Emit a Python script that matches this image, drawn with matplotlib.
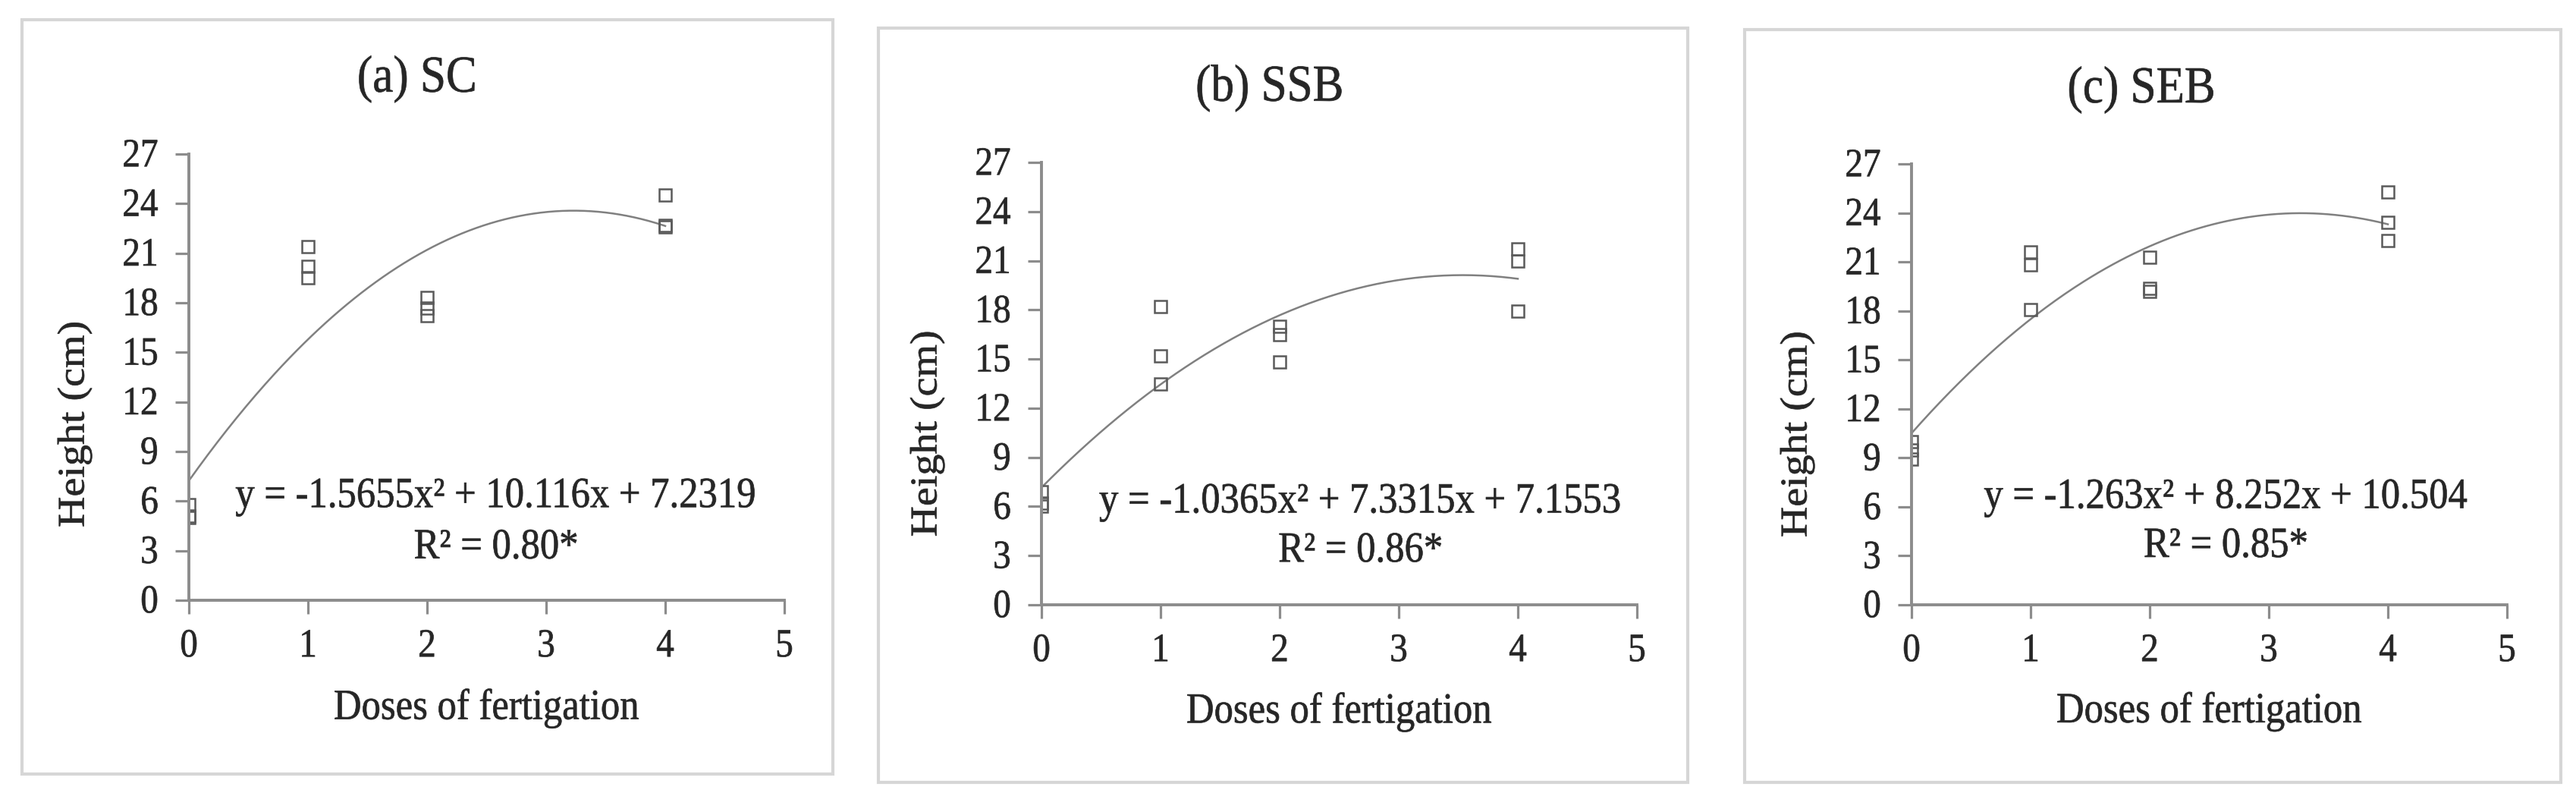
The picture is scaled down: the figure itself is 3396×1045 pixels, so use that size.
import numpy as np
import matplotlib.pyplot as plt
from matplotlib.patches import Rectangle
from matplotlib.patheffects import AbstractPathEffect
from matplotlib.transforms import Affine2D

plt.rcParams['font.family'] = ['Liberation Serif', 'DejaVu Serif']

# datos
titles = ['(a) SC', '(b) SSB', '(c) SEB']
doses = [0, 0, 0, 1, 1, 1, 2, 2, 2, 4, 4, 4]
height_sc = [5.8, 5.1, 5.0, 21.4, 20.2, 19.5, 18.3, 17.7, 17.2, 24.5, 22.6, 22.7]
height_ssb = [6.9, 6.2, 6.0, 18.2, 15.2, 13.5, 17.0, 16.5, 14.8, 21.7, 21.0, 17.9]
height_seb = [10.0, 9.5, 8.9, 21.6, 20.8, 18.1, 21.3, 19.4, 19.2, 25.3, 23.4, 22.3]
coef_sc = [-1.5655, 10.116, 7.2319]
coef_ssb = [-1.0365, 7.3315, 7.1553]
coef_seb = [-1.263, 8.252, 10.504]
equations = ['y = -1.5655x² + 10.116x + 7.2319',
             'y = -1.0365x² + 7.3315x + 7.1553',
             'y = -1.263x² + 8.252x + 10.504']
r2_labels = ['R² = 0.80*', 'R² = 0.86*', 'R² = 0.85*']
x_ticks = [0, 1, 2, 3, 4, 5]
y_ticks = [0, 3, 6, 9, 12, 15, 18, 21, 24, 27]

heights = [height_sc, height_ssb, height_seb]
coefs = [coef_sc, coef_ssb, coef_seb]


# el texto del original esta algo estirado en vertical
class Stretch(AbstractPathEffect):
    def __init__(self, sx=1.0, sy=1.0, stroke=0.0):
        super().__init__()
        self.sx, self.sy, self.stroke = sx, sy, stroke

    def draw_path(self, renderer, gc, tpath, affine, rgbFace=None):
        gc0 = renderer.new_gc()
        gc0.copy_properties(gc)
        if self.stroke and rgbFace is not None:
            gc0.set_linewidth(self.stroke)
            gc0.set_foreground(rgbFace)
        renderer.draw_path(gc0, tpath, Affine2D().scale(self.sx, self.sy) + affine, rgbFace)
        gc0.restore()


tall = [Stretch(1.0, 1.12, 0.5)]
tall_rot = [Stretch(1.12, 1.0, 0.5)]

# posiciones (pixeles de la figura)
W, H = 3396, 1045
axes_px = [(249, 1034, 203, 791), (1373, 2158, 214, 797), (2520, 3305, 216, 797)]
frames_px = [(29, 1098, 26, 1020), (1158, 2225, 37, 1031), (2300, 3376, 39, 1031)]
eq_pos = [(2.58, 6.2, 3.1), (2.68, 6.2, 3.2), (2.64, 6.5, 3.5)]
title_x = [0.383, 0.383, 0.386]
ylabel_y = [0.37, 0.362, 0.362]

text_color = '#262626'
axis_color = '#8c8c8c'

fig = plt.figure(figsize=(W / 100, H / 100), dpi=100)

for (fx0, fx1, fy0, fy1) in frames_px:
    fig.patches.append(Rectangle((fx0 / W, 1 - fy1 / H), (fx1 - fx0) / W, (fy1 - fy0) / H,
                                 transform=fig.transFigure, fill=False,
                                 edgecolor='#d6d6d6', linewidth=3))

for i in range(3):
    x0, x1, y0, y1 = axes_px[i]
    ax = fig.add_axes([x0 / W, 1 - y1 / H, (x1 - x0) / W, (y1 - y0) / H])

    xs = np.linspace(0, 4, 200)
    ax.plot(xs, np.polyval(coefs[i], xs), color='#808080', linewidth=1.8)
    ax.plot(doses, heights[i], linestyle='none', marker='s', markersize=11,
            markerfacecolor='none', markeredgecolor='#5a5a5a', markeredgewidth=1.8)

    ax.set_xlim(0, 5)
    ax.set_ylim(0, 27)
    ax.set_xticks(x_ticks)
    ax.set_yticks(y_ticks)
    for s in ['top', 'right']:
        ax.spines[s].set_visible(False)
    for s in ['left', 'bottom']:
        ax.spines[s].set_color(axis_color)
        ax.spines[s].set_linewidth(2.8)
    ax.tick_params(axis='both', direction='out', color=axis_color, width=2.3,
                   labelsize=34, labelcolor=text_color)
    ax.tick_params(axis='y', length=13, pad=16)
    ax.tick_params(axis='x', length=13, pad=17)
    for lab in ax.get_xticklabels() + ax.get_yticklabels():
        lab.set_path_effects(tall)

    xl = ax.set_xlabel('Doses of fertigation', fontsize=36.5, color=text_color, va='center')
    yl = ax.set_ylabel('Height (cm)', fontsize=36, color=text_color, va='center')
    xl.set_path_effects(tall)
    yl.set_path_effects(tall_rot)
    ax.xaxis.set_label_coords(0.5, -0.245)
    ax.yaxis.set_label_coords(-0.192, ylabel_y[i])
    t = ax.set_title(titles[i], fontsize=44, color=text_color, x=title_x[i], y=1.165,
                     va='center', pad=0)
    t.set_path_effects(tall)

    ex, ey, ry = eq_pos[i]
    for txt, ty in [(equations[i], ey), (r2_labels[i], ry)]:
        ax.text(ex, ty, txt, fontsize=36.5, color=text_color, ha='center', va='center',
                path_effects=tall)

fig.savefig('out.png', dpi=100, facecolor='white')
